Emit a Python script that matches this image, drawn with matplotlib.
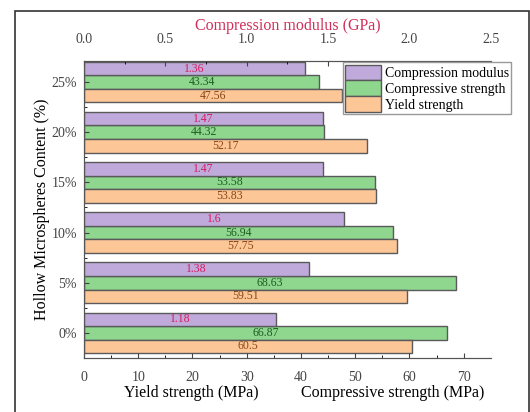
import matplotlib
matplotlib.use('Agg')
import matplotlib.pyplot as plt
from matplotlib.patches import Rectangle
import numpy as np

plt.rcParams['font.family'] = ['Liberation Serif', 'DejaVu Serif']

# Hollow microsphere content (bottom to top)
contents = ['0%', '5%', '10%', '15%', '20%', '25%']
modulus = [1.18, 1.38, 1.6, 1.47, 1.47, 1.36]          # GPa
comp_strength = [66.87, 68.63, 56.94, 53.58, 44.32, 43.34]  # MPa
yield_strength = [60.5, 59.51, 57.75, 53.83, 52.17, 47.56]  # MPa

c_purple = '#bfaadb'
c_green = '#8fd68f'
c_orange = '#fcc696'
edge = '#5a5a5a'

fig = plt.figure(figsize=(5.3, 4.12), dpi=100)
ax = fig.add_axes([0.1585, 0.131, 0.7675, 0.721])
ax2 = ax.twiny()

y = np.arange(len(contents))
h = 0.27

b_mod = ax2.barh(y + h, modulus, height=h, color=c_purple, edgecolor=edge, linewidth=1)
b_comp = ax.barh(y, comp_strength, height=h, color=c_green, edgecolor=edge, linewidth=1)
b_yield = ax.barh(y - h, yield_strength, height=h, color=c_orange, edgecolor=edge, linewidth=1)

ax2.bar_label(b_mod, labels=[str(v) for v in modulus], label_type='center',
              color='#d81b60', fontsize=8.5)
ax.bar_label(b_comp, labels=[str(v) for v in comp_strength], label_type='center',
             color='#1b5e20', fontsize=8.5)
ax.bar_label(b_yield, labels=[str(v) for v in yield_strength], label_type='center',
             color='#8b4513', fontsize=8.5)

ax.set_xlim(0, 75)
ax2.set_xlim(0, 2.5)
ax.set_ylim(-0.5, 5.42)

ax.set_yticks(y)
ax.set_yticklabels(contents)
ax.set_yticks(y[:-1] + 0.5, minor=True)
ax.set_xticks(np.arange(0, 71, 10))
ax.set_xticks(np.arange(5, 75, 10), minor=True)
ax2.set_xticks(np.arange(0, 2.51, 0.5))
ax2.set_xticks(np.arange(0.25, 2.5, 0.5), minor=True)

ax.tick_params(axis='x', direction='in', pad=9, labelsize=10, colors='#444')
ax.tick_params(axis='y', direction='in', pad=5, labelsize=10, colors='#444')
ax2.tick_params(axis='x', direction='in', pad=11, labelsize=10, colors='#444')
ax.tick_params(which='minor', direction='in', length=2)
ax2.tick_params(which='minor', direction='in', length=2)

for a in (ax, ax2):
    a.spines['right'].set_visible(False)
    for s in ('top', 'bottom', 'left'):
        a.spines[s].set_color('#555')

ax.set_ylabel('Hollow Microspheres Content (%)', fontsize=11.5, labelpad=1)
ax2.set_xlabel('Compression modulus (GPa)', fontsize=11.5, color='#d0305a', labelpad=2)

ax.text(0.265, -0.118, 'Yield strength (MPa)', transform=ax.transAxes,
        ha='center', va='center', fontsize=11.5)
ax.text(0.76, -0.118, 'Compressive strength (MPa)', transform=ax.transAxes,
        ha='center', va='center', fontsize=11.5)

leg = ax2.legend([b_mod, b_comp, b_yield],
                 ['Compression modulus', 'Compressive strength', 'Yield strength'],
                 loc='upper right', bbox_to_anchor=(1.05, 0.995), fontsize=10,
                 frameon=True, fancybox=False, edgecolor='#999', framealpha=1,
                 handlelength=2.6, handleheight=1.3, borderpad=0.15,
                 labelspacing=0.05, handletextpad=0.3, borderaxespad=0)

# outer frame around the figure
fig.patches.append(Rectangle((15 / 530, -0.01), 514 / 530, 1 - 11 / 412 + 0.01,
                             transform=fig.transFigure, fill=False,
                             edgecolor='#333', linewidth=1.2))

fig.savefig('out.png', dpi=100)
